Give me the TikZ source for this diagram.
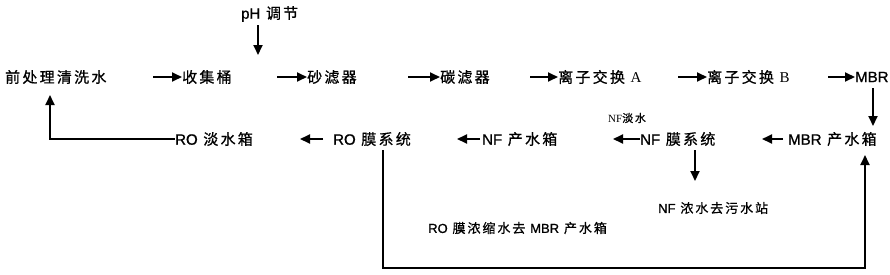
\documentclass[tikz,border=0pt]{standalone}
\usepackage{fontspec}
\setmainfont{Noto Sans CJK SC}[LetterSpace=15,FakeBold=0.8]
\newfontfamily\latfont{Liberation Sans}[FakeBold=1]
\newfontfamily\serfont{Liberation Serif}
\newcommand{\lt}[1]{{\latfont #1}}
\usetikzlibrary{arrows.meta,calc}
\begin{document}
\begin{tikzpicture}[x=1bp,y=-1bp,
  lbl/.style={inner sep=0pt, anchor=west, font=\fontsize{15bp}{17bp}\selectfont},
  lbls/.style={inner sep=0pt, anchor=west, font=\fontsize{13bp}{15bp}\selectfont},
  small/.style={inner sep=0pt, anchor=west, font=\fontsize{11bp}{13bp}\selectfont},
  arr/.style={line width=1.8bp, -{Triangle[length=10bp,width=9bp]}},
  ln/.style={line width=1.8bp}]
\useasboundingbox (0,0) rectangle (890,274);
% row 1
\node[lbl] (qc) at (5,77) {前处理清洗水};
\node[lbl] (sj) at (182,77) {收集桶};
\node[lbl] (ph) at (241,14) {\lt{pH} 调节};
\node[lbl] (sl) at (307,77) {砂滤器};
\node[lbl] (tl) at (440,77) {碳滤器};
\node[lbl] (lza) at (558,77) {离子交换 {\serfont A}};
\node[lbl] (lzb) at (707,77) {离子交换 {\serfont B}};
\node[lbl] (mbr) at (855,77) {\lt{MBR}};
% row 2
\node[lbl] (mbrc) at (788,139) {\lt{MBR} 产水箱};
\node[lbl] (nfm) at (640,139) {\lt{NF} 膜系统};
\node[small] (nfd) at (608,118) {{\serfont NF}淡水};
\node[lbl] (nfc) at (482,139) {\lt{NF} 产水箱};
\node[lbl] (rom) at (333,139) {\lt{RO} 膜系统};
\node[lbl] (roc) at (175,139) {\lt{RO} 淡水箱};
\node[lbls] (nfn) at (658,208) {\lt{NF} 浓水去污水站};
\node[lbls] (ron) at (428,228) {\lt{RO} 膜浓缩水去 \lt{MBR} 产水箱};
% coordinates
\coordinate (phs) at (258,25);
\coordinate (qcb) at (50,95);
\coordinate (roc1) at (50,139);
\coordinate (rob) at (383,268);
\coordinate (mbb) at (865,268);
% row 1 arrows
\draw[arr] ($(sj.west)+(-29,0)$) -- (sj.west);
\draw[arr] (phs) -- (258,55);
\draw[arr] ($(sl.west)+(-30,0)$) -- (sl.west);
\draw[arr] ($(tl.west)+(-32,0)$) -- (tl.west);
\draw[arr] ($(lza.west)+(-28,0)$) -- (lza.west);
\draw[arr] ($(lzb.west)+(-29,0)$) -- (lzb.west);
\draw[arr] ($(mbr.west)+(-27,0)$) -- (mbr.west);
\draw[arr] (873,88) -- (873,126);
% row 2 arrows
\draw[arr] ($(mbrc.west)+(-5,0)$) -- ++(-21,0);
\draw[arr] (nfm.west) -- ++(-27,0);
\draw[arr] (695,150) -- (695,181);
\draw[arr] ($(nfc.west)+(-2,0)$) -- ++(-23,0);
\draw[arr] ($(rom.west)+(-10,0)$) -- ++(-23,0);
\draw[arr] (roc.west) -- (roc1) -- (qcb);
\draw[arr] (383,150) -- (rob) -- (mbb) -- (865,155);
\end{tikzpicture}
\end{document}
